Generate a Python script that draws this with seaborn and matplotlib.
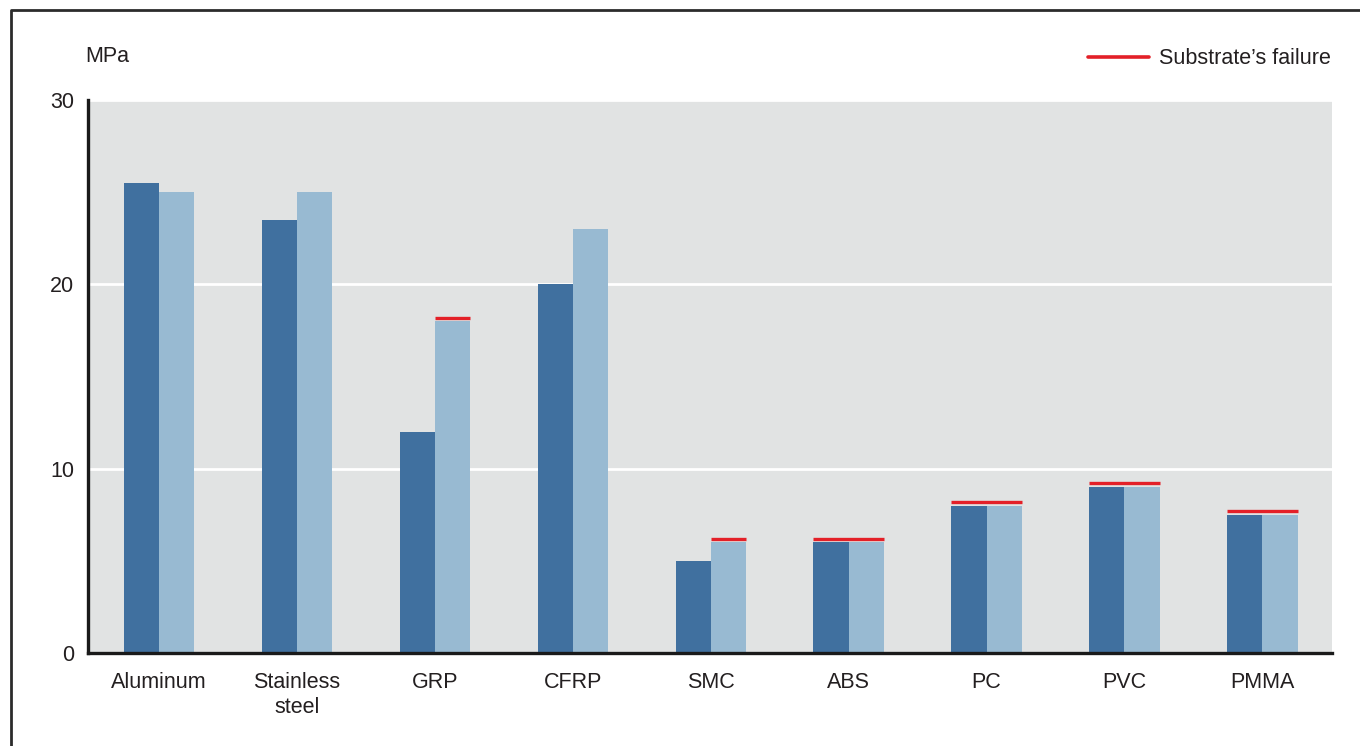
import matplotlib
matplotlib.use("Agg")
import matplotlib.pyplot as plt
from matplotlib.lines import Line2D
import seaborn as sns
import pandas as pd

categories = ["Aluminum", "Stainless\nsteel", "GRP", "CFRP", "SMC", "ABS", "PC", "PVC", "PMMA"]
series_names = ["Series 1", "Series 2"]
series1 = [25.5, 23.5, 12, 20, 5, 6, 8, 9, 7.5]
series2 = [25, 25, 18, 23, 6, 6, 8, 9, 7.5]
failure = [None, None, 18.2, None, 6.2, 6.2, 8.2, 9.2, 7.7]
yticks = [0, 10, 20, 30]

df = pd.DataFrame({
    "category": categories * 2,
    "series": [series_names[0]] * len(categories) + [series_names[1]] * len(categories),
    "value": series1 + series2,
})

sns.set_theme(style="white")
plt.rcParams["font.family"] = ["Liberation Sans", "DejaVu Sans"]
TXT = "#231f20"
FS = 15.5

fig = plt.figure(figsize=(13.6, 7.46), dpi=100)
ax = fig.add_axes([88 / 1360, 1 - 653 / 746, (1332 - 88) / 1360, (653 - 100) / 746])
ax.set_facecolor("#e1e3e3")

sns.barplot(data=df, x="category", y="value", hue="series", order=categories,
            hue_order=series_names, palette=["#40709f", "#98bad2"], width=0.51,
            saturation=1, ax=ax, legend=False, errorbar=None, linewidth=0)

ax.set_xlim(-0.515, len(categories) - 0.495)
ax.set_ylim(0, 30)
ax.set_yticks(yticks)
ax.set_yticklabels([str(t) for t in yticks], fontsize=FS, color=TXT)
ax.tick_params(axis="y", length=0, pad=10)
ax.tick_params(axis="x", length=0, pad=14, labelsize=FS, labelcolor=TXT)
ax.set_xlabel("")
ax.set_ylabel("")
ax.yaxis.grid(True, color="white", linewidth=2)
ax.set_axisbelow(True)
for s in ["top", "right"]:
    ax.spines[s].set_visible(False)
for s in ["left", "bottom"]:
    ax.spines[s].set_color("#1a1a1a")
    ax.spines[s].set_linewidth(2.4)
    ax.spines[s].set_zorder(5)

# substrate failure markers over the bars that reached the failure value
vals = [series1, series2]
for i, f in enumerate(failure):
    if f is None:
        continue
    top = max(series1[i], series2[i])
    spans = []
    for k, cont in enumerate(ax.containers):
        if vals[k][i] == top:
            p = cont.patches[i]
            spans.append((p.get_x(), p.get_x() + p.get_width()))
    x0 = min(s[0] for s in spans)
    x1 = max(s[1] for s in spans)
    ax.hlines(f, x0, x1, color="#e32028", linewidth=2.4, zorder=4)

fig.text(85 / 1360, 1 - 57 / 746, "MPa", fontsize=FS, color=TXT, ha="left", va="center")

handle = Line2D([], [], color="#e32028", linewidth=2.6)
fig.legend([handle], ["Substrate\u2019s failure"], loc="center right",
           bbox_to_anchor=(1331 / 1360, 1 - 59 / 746), frameon=False,
           fontsize=FS, handlelength=2.85, handletextpad=0.45, borderpad=0,
           borderaxespad=0, labelcolor=TXT)

# outer frame lines (left and top)
fig.add_artist(Line2D([11 / 1360, 11 / 1360, 1.0], [0.0, 1 - 10 / 746, 1 - 10 / 746],
                      transform=fig.transFigure, color="#2b2b2b", linewidth=2))

fig.savefig("out.png", dpi=100)
